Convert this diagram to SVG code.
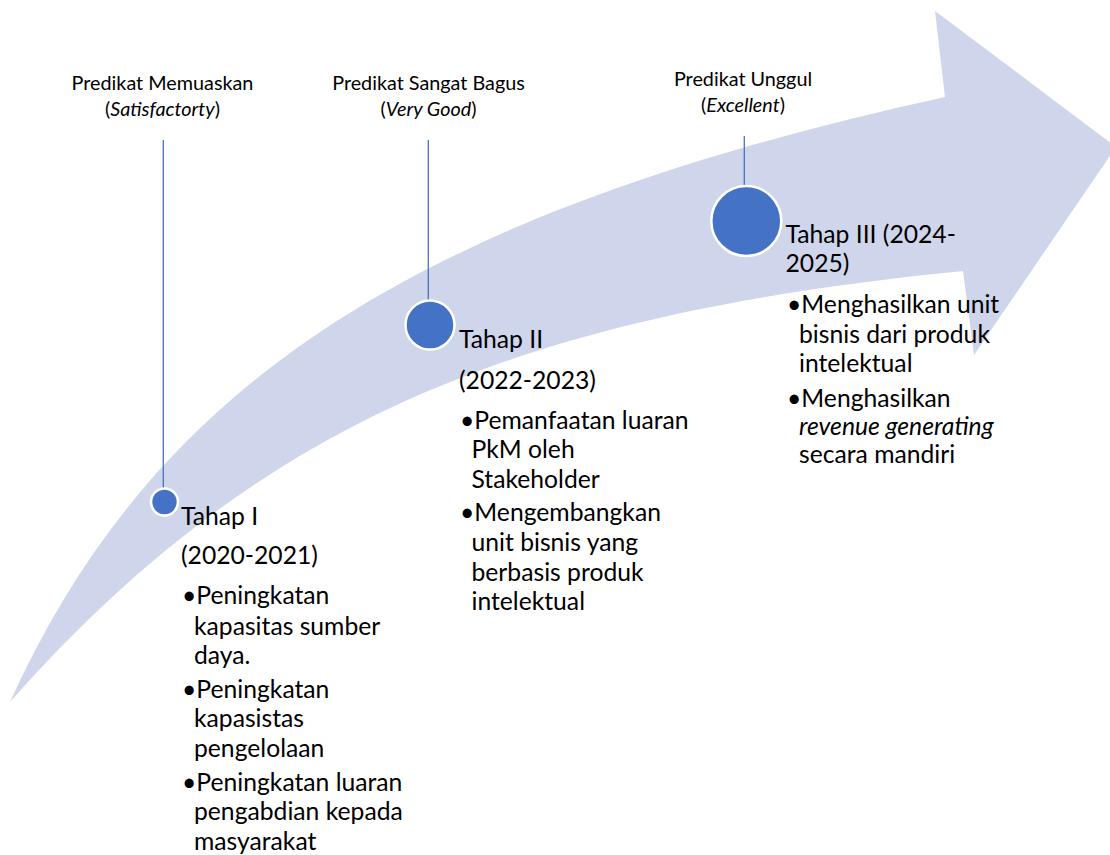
<svg xmlns="http://www.w3.org/2000/svg" width="1110" height="855" viewBox="0 0 1110 855">
  <style>
    .band { fill: #CFD5EA; }
    .dot { fill: #4472C4; stroke: #FFFFFF; stroke-width: 2.5; }
    .tick { stroke: #4472C4; stroke-width: 1.3; fill: none; }
    .lbl { font-family: Lato, "Liberation Sans", sans-serif; font-size: 19.8px; fill: #000; text-anchor: middle; }
    .body { font-family: Lato, "Liberation Sans", sans-serif; font-size: 24.7px; fill: #000; }
    .it { font-style: italic; }
  </style>

  <!-- curved progress arrow behind everything -->
  <g id="arrow">
    <path class="band" d="M10,702 C155,382 417,213 945,97 L935,11 L1116,147 L974,355 L963,271 C519,315 260,420 10,702 Z"/>
  </g>

  <!-- drop lines from the rating labels down to the stage markers -->
  <g id="connectors">
    <line class="tick" x1="163.3" y1="140" x2="163.3" y2="488"/>
    <line class="tick" x1="428.3" y1="140" x2="428.3" y2="300"/>
    <line class="tick" x1="744.3" y1="136" x2="744.3" y2="186"/>
  </g>

  <g id="rating-1">
    <text class="lbl" x="162.5" y="90">Predikat Memuaskan<tspan x="162.5" y="116">(<tspan class="it">Satisfactorty</tspan>)</tspan></text>
  </g>
  <g id="rating-2">
    <text class="lbl" x="428.5" y="90">Predikat Sangat Bagus<tspan x="428.5" y="116">(<tspan class="it">Very Good</tspan>)</tspan></text>
  </g>
  <g id="rating-3">
    <text class="lbl" x="743" y="86">Predikat Unggul<tspan x="743" y="112">(<tspan class="it">Excellent</tspan>)</tspan></text>
  </g>

  <g id="stage-1">
    <circle class="dot" cx="164.5" cy="502" r="13.5"/>
    <text class="body" x="181" y="525">Tahap I</text>
    <text class="body" x="181" y="564">(2020-2021)</text>
    <text class="body" x="182" y="604">•Peningkatan<tspan x="194" y="634.5">kapasitas sumber</tspan><tspan x="194" y="664">daya.</tspan></text>
    <text class="body" x="182" y="698">•Peningkatan<tspan x="194" y="727">kapasistas</tspan><tspan x="194" y="756.5">pengelolaan</tspan></text>
    <text class="body" x="182" y="791">•Peningkatan luaran<tspan x="194" y="820">pengabdian kepada</tspan><tspan x="194" y="849.5">masyarakat</tspan></text>
  </g>

  <g id="stage-2">
    <circle class="dot" cx="430" cy="325" r="24.5"/>
    <text class="body" x="459" y="348">Tahap II</text>
    <text class="body" x="459" y="388.5">(2022-2023)</text>
    <text class="body" x="460" y="429">•Pemanfaatan luaran<tspan x="471.5" y="458">PkM oleh</tspan><tspan x="471.5" y="487.5">Stakeholder</tspan></text>
    <text class="body" x="460" y="521">•Mengembangkan<tspan x="471.5" y="551">unit bisnis yang</tspan><tspan x="471.5" y="580.5">berbasis produk</tspan><tspan x="471.5" y="609.5">intelektual</tspan></text>
  </g>

  <g id="stage-3">
    <circle class="dot" cx="746.3" cy="221" r="35"/>
    <text class="body" x="785.5" y="243.3">Tahap III (2024-<tspan x="785.5" y="271.7">2025)</tspan></text>
    <text class="body" x="787" y="313.3">•Menghasilkan unit<tspan x="799" y="342.7">bisnis dari produk</tspan><tspan x="799" y="371.7">intelektual</tspan></text>
    <text class="body" x="787" y="406.7">•Menghasilkan<tspan x="799" y="435" class="it">revenue generating</tspan><tspan x="799" y="463.3">secara mandiri</tspan></text>
  </g>
</svg>
